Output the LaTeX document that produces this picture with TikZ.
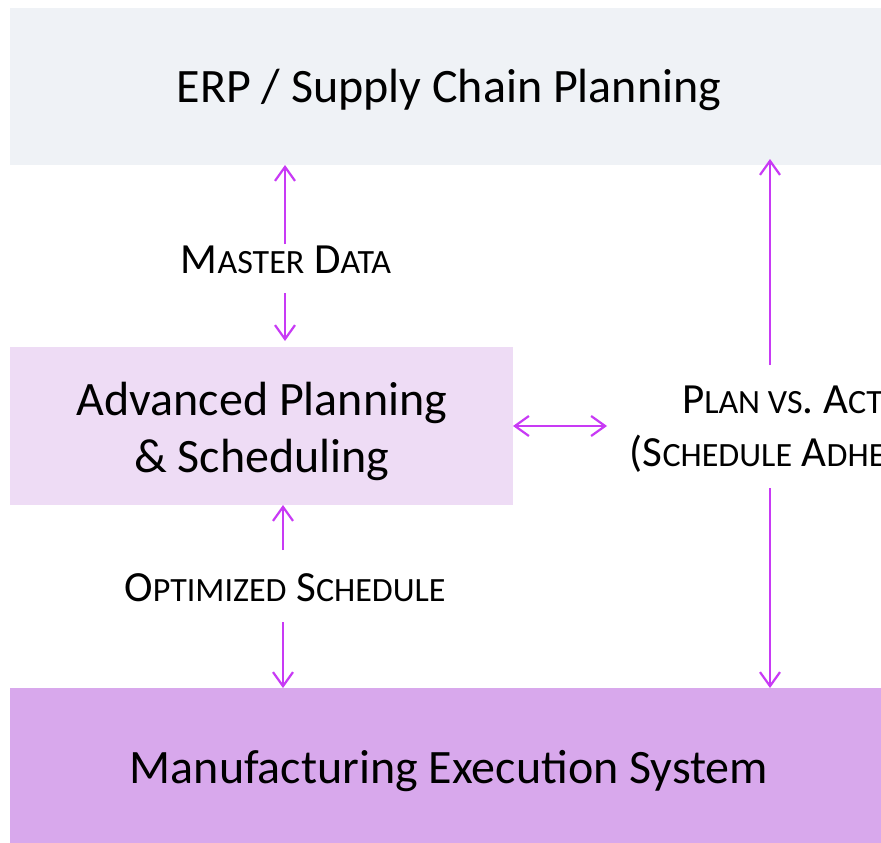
\documentclass[tikz,border=0pt]{standalone}
\usepackage{fontspec}
\setmainfont{Carlito}
\usetikzlibrary{arrows.meta}
\definecolor{erpfill}{RGB}{239,242,246}
\definecolor{apsfill}{RGB}{238,220,245}
\definecolor{mesfill}{RGB}{216,168,236}
\definecolor{arr}{RGB}{200,58,245}
\newcommand\lo[1]{{\fontsize{34}{53}\selectfont #1}}
\tikzset{
  x=1pt, y=-1pt,
  box/.style={draw=none, inner sep=0pt, font=\fontsize{48}{57}\selectfont, align=center},
  lbl/.style={inner sep=0pt, font=\fontsize{43}{53}\selectfont, align=center},
  barbtip/.tip={Straight Barb[length=14pt,width=20pt,line width=2.2pt]},
  link/.style={draw=arr, line width=2.2pt, -barbtip},
  link2/.style={draw=arr, line width=2.2pt, barbtip-barbtip}
}
\begin{document}
\begin{tikzpicture}
\useasboundingbox (0,0) rectangle (881,843);
\clip (0,0) rectangle (881,843);
\fill[white] (0,0) rectangle (881,843);
% boxes
\fill[erpfill] (10,8) rectangle (890,165);
\fill[apsfill] (10,347) rectangle (513,505);
\fill[mesfill] (10,688) rectangle (890,845);
\node[box] (erp) at (449,90) {ERP / Supply Chain Planning};
\node[box] (aps) at (262,431) {Advanced Planning\\ \& Scheduling};
\node[box] (mes) at (449,771) {Manufacturing Execution System};
% anchors
\coordinate (erpB1) at (285,165);
\coordinate (erpB2) at (770,159);
\coordinate (apsT) at (285,341);
\coordinate (apsB) at (283,505);
\coordinate (apsR) at (513,426);
\coordinate (mesT1) at (283,688);
\coordinate (mesT2) at (770,688);
% labels
\node[lbl] (md) at (286,260) {M\lo{ASTER} D\lo{ATA}};
\node[lbl] (os) at (285,588) {O\lo{PTIMIZED} S\lo{CHEDULE}};
\node[lbl] (pa) at (810,429) {P\lo{LAN VS}. A\lo{CTUAL}\\(S\lo{CHEDULE} A\lo{DHERENCE})};
\coordinate (mdT) at (285,244);
\coordinate (mdB) at (285,293);
\coordinate (osT) at (283,550);
\coordinate (osB) at (283,622);
\coordinate (paT) at (770,365);
\coordinate (paB) at (770,488);
\coordinate (paL) at (607,426);
% connectors
\draw[link] (mdT) -- (erpB1);
\draw[link] (mdB) -- (apsT);
\draw[link] (osT) -- (apsB);
\draw[link] (osB) -- (mesT1);
\draw[link] (paT) -- (erpB2);
\draw[link] (paB) -- (mesT2);
\draw[link2] (apsR) -- (paL);
\end{tikzpicture}
\end{document}
